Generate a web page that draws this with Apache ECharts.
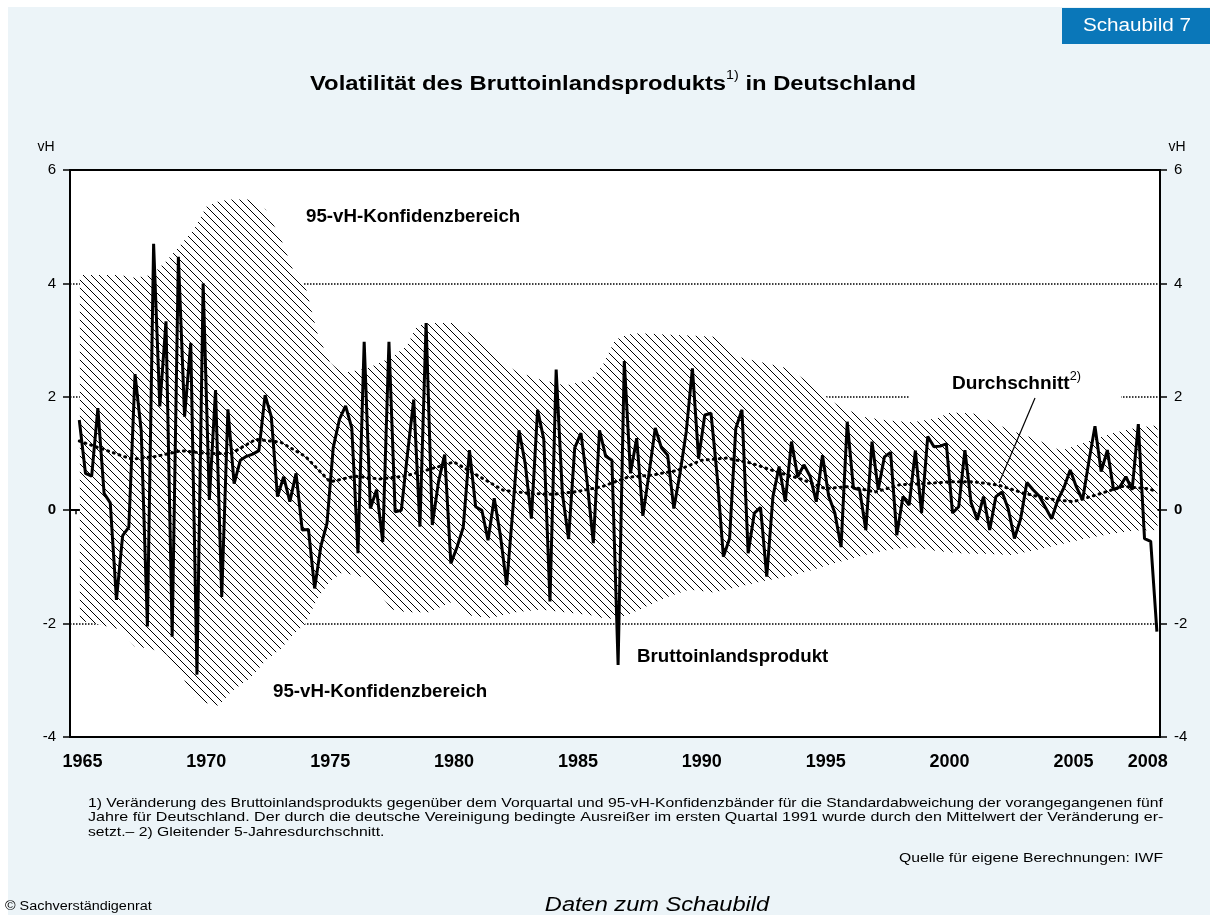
<!DOCTYPE html>
<html>
<head>
<meta charset="utf-8">
<script src="https://cdn.jsdelivr.net/npm/echarts@6/dist/echarts.min.js"></script>
<style>
html, body { margin: 0; padding: 0; background: #fff; }
#bg { position: absolute; left: 8px; top: 7px; width: 1202px; height: 908px; background: #ecf4f8; }
#chart { position: absolute; left: 0; top: 0; width: 1215px; height: 915px; }
</style>
</head>
<body>
<div id="bg"></div>
<div id="chart"></div>
<script>
// Veränderung des BIP gegenüber Vorquartal, vH, ab 1965 Q2
const startYear = 1965;
const startQuarter = 2;
const gdp = [
  1.59, 0.65, 0.6,
  1.8, 0.3, 0.13, -1.58,
  -0.45, -0.3, 2.4, 1.4,
  -2.05, 4.7, 1.83, 3.33,
  -2.23, 4.47, 1.65, 2.95,
  -2.9, 4.0, 0.18, 2.12,
  -1.53, 1.78, 0.47, 0.88,
  0.95, 0.99, 1.05, 2.03,
  1.65, 0.24, 0.59, 0.15,
  0.65, -0.35, -0.34, -1.38,
  -0.64, -0.23, 1.1, 1.6,
  1.84, 1.45, -0.76, 2.97,
  0.03, 0.36, -0.56, 2.97,
  -0.03, 0.0, 1.0, 1.95,
  -0.29, 3.3, -0.26, 0.5,
  0.98, -0.94, -0.65, -0.3,
  1.06, 0.06, 0.0, -0.53,
  0.21, -0.45, -1.32, 0.0,
  1.41, 0.82, -0.15, 1.77,
  1.25, -1.61, 2.48, 0.3,
  -0.51, 1.1, 1.36, 0.5,
  -0.58, 1.41, 0.95, 0.88,
  -2.73, 2.63, 0.65, 1.27,
  -0.1, 0.65, 1.45, 1.1,
  0.97, 0.03, 0.65, 1.38,
  2.5, 0.91, 1.68, 1.71,
  0.6, -0.82, -0.5, 1.44,
  1.77, -0.76, -0.05, 0.05,
  -1.17, 0.24, 0.77, 0.15,
  1.21, 0.59, 0.8, 0.6,
  0.15, 0.97, 0.25, -0.05,
  -0.65, 1.56, 0.39, 0.36,
  -0.35, 1.21, 0.36, 0.94,
  1.02, -0.44, 0.24, 0.09,
  1.05, -0.05, 1.3, 1.12,
  1.13, 1.17, -0.05, 0.06,
  1.06, 0.13, -0.17, 0.24,
  -0.35, 0.24, 0.32, 0.02,
  -0.5, -0.15, 0.49, 0.36,
  0.25, 0.05, -0.15, 0.18,
  0.4, 0.71, 0.41, 0.18,
  0.85, 1.48, 0.68, 1.06,
  0.36, 0.41, 0.59, 0.36,
  1.52, -0.5, -0.55, -2.14
];

// Gleitender 5-Jahresdurchschnitt
const avgYears = [1965.375, 1966.5, 1967.5, 1968.5, 1969.5, 1970.5, 1971.5, 1972.5, 1973.5, 1974.5,
  1975.5, 1976.5, 1977.5, 1978.5, 1979.5, 1980.5, 1981.5, 1982.5, 1983.5, 1984.5,
  1985.5, 1986.5, 1987.5, 1988.5, 1989.5, 1990.5, 1991.5, 1992.5, 1993.5, 1994.5,
  1995.5, 1996.5, 1997.5, 1998.5, 1999.5, 2000.5, 2001.5, 2002.5, 2003.5, 2004.5,
  2005.5, 2006.5, 2007.5, 2008.5, 2008.875];
const avgValues = [1.22, 1.05, 0.9, 0.95, 1.05, 1.0, 1.0, 1.25, 1.2, 0.95,
  0.5, 0.6, 0.55, 0.6, 0.72, 0.85, 0.6, 0.35, 0.3, 0.28,
  0.33, 0.42, 0.58, 0.62, 0.7, 0.88, 0.92, 0.83, 0.68, 0.55,
  0.38, 0.42, 0.32, 0.45, 0.47, 0.5, 0.5, 0.44, 0.3, 0.2,
  0.15, 0.28, 0.42, 0.38, 0.33];

// 95-vH-Konfidenzbereich
const bandYears = [1965.4, 1966.0, 1967.0, 1967.6, 1968.3, 1968.9, 1969.5, 1970.0, 1970.5, 1971.0,
  1971.5, 1972.3, 1972.9, 1973.5, 1974.0, 1974.5, 1975.0, 1975.5, 1976.0, 1977.0,
  1978.0, 1978.6, 1979.0, 1979.5, 1980.5, 1981.0, 1981.5, 1982.0, 1982.5, 1983.0,
  1984.0, 1985.0, 1986.0, 1986.5, 1987.0, 1987.5, 1988.0, 1989.0, 1990.0, 1991.0,
  1991.5, 1992.0, 1993.0, 1994.0, 1995.0, 1995.5, 1996.0, 1996.5, 1997.0, 1998.0,
  1999.0, 2000.0, 2000.5, 2001.0, 2001.5, 2002.0, 2003.0, 2004.0, 2005.0, 2006.0,
  2007.0, 2008.0, 2008.9];
const bandUpper = [4.15, 4.15, 4.15, 4.1, 4.15, 4.4, 4.7, 4.95, 5.35, 5.45,
  5.48, 5.48, 5.3, 4.8, 4.24, 3.95, 3.1, 2.6, 2.42, 2.5,
  2.7, 2.9, 3.25, 3.3, 3.3, 3.15, 3.05, 2.8, 2.6, 2.45,
  2.3, 2.2, 2.3, 2.55, 3.0, 3.1, 3.12, 3.1, 3.08, 3.06,
  2.85, 2.7, 2.6, 2.5, 2.2, 2.0, 1.85, 1.75, 1.65, 1.58,
  1.55, 1.62, 1.72, 1.72, 1.7, 1.6, 1.4, 1.25, 1.05, 1.2,
  1.35, 1.45, 1.5];
const bandLower = [-1.95, -2.0, -2.1, -2.4, -2.45, -2.55, -2.9, -3.3, -3.4, -3.45,
  -3.2, -2.95, -2.65, -2.45, -2.2, -2.0, -1.55, -1.25, -1.1, -1.2,
  -1.75, -1.8, -1.8, -1.8, -1.6, -1.85, -1.88, -1.9, -1.85, -1.8,
  -1.75, -1.8, -1.85, -1.9, -1.92, -1.85, -1.75, -1.55, -1.4, -1.45,
  -1.4, -1.35, -1.25, -1.17, -1.05, -0.98, -0.92, -0.86, -0.8, -0.7,
  -0.65, -0.72, -0.74, -0.76, -0.77, -0.77, -0.79, -0.7, -0.6, -0.5,
  -0.42, -0.36, -0.35];

const yearLabels = [1965, 1970, 1975, 1980, 1985, 1990, 1995, 2000, 2005, 2008];

const FONT = 'Liberation Sans, Arial, Helvetica, sans-serif';

function hatchCanvas() {
  const c = document.createElement('canvas');
  c.width = 8; c.height = 8;
  const g = c.getContext('2d');
  g.fillStyle = '#fff';
  g.fillRect(0, 0, 8, 8);
  g.strokeStyle = '#000';
  g.lineWidth = 1;
  g.beginPath();
  g.moveTo(-1, -1); g.lineTo(9, 9);
  g.moveTo(-1, 7); g.lineTo(1, 9);
  g.moveTo(7, -1); g.lineTo(9, 1);
  g.stroke();
  return c;
}
const hatch = hatchCanvas();

const gdpData = gdp.map((v, i) => {
  const q = startQuarter - 1 + i;
  return [startYear + Math.floor(q / 4) + ((q % 4) + 0.5) / 4, v];
});
const avgData = avgYears.map((x, i) => [x, avgValues[i]]);

const chart = echarts.init(document.getElementById('chart'), null, { renderer: 'canvas' });

const yAxisBase = {
  type: 'value', min: -4, max: 6, interval: 2,
  axisLine: { show: true, lineStyle: { color: '#000', width: 2 } },
  axisTick: { show: true, length: 7, lineStyle: { color: '#000', width: 1.5 } },
  axisLabel: {
    color: '#000', fontSize: 15, fontFamily: FONT, margin: 14,
    formatter: v => v === 0 ? '{z|0}' : String(v),
    rich: { z: { fontWeight: 'bold', fontSize: 15, fontFamily: FONT, color: '#000' } }
  }
};

function note(text, x, y, sx) {
  return { type: 'text', x: x, y: y, scaleX: sx, style: { text: text, fill: '#000', font: '13px ' + FONT, verticalAlign: 'middle' } };
}

const option = {
  animation: false,
  backgroundColor: 'transparent',
  grid: { left: 70, right: 55, top: 170, bottom: 178, show: true, backgroundColor: '#fff', borderColor: '#000', borderWidth: 2 },
  xAxis: {
    type: 'value', min: 1965, max: 2009, interval: 1,
    axisLine: { show: true, lineStyle: { color: '#000', width: 2 } },
    axisTick: { show: true, length: 13, lineStyle: { color: '#000', width: 2 } },
    minorTick: { show: true, splitNumber: 4, length: 4, lineStyle: { color: '#000', width: 1.5 } },
    splitLine: { show: false },
    axisLabel: {
      color: '#000', fontSize: 18, fontWeight: 'bold', fontFamily: FONT, margin: 16,
      padding: [0, 0, 0, 25],
      showMinLabel: true, showMaxLabel: true,
      formatter: v => yearLabels.indexOf(Math.round(v)) >= 0 ? String(Math.round(v)) : ''
    }
  },
  yAxis: [
    Object.assign({}, yAxisBase, {
      position: 'left',
      splitLine: { show: true, lineStyle: { color: '#000', type: 'dotted', width: 1.5 } }
    }),
    Object.assign({}, yAxisBase, { position: 'right', splitLine: { show: false } })
  ],
  series: [
    {
      name: '95-vH-Konfidenzbereich',
      type: 'custom',
      silent: true,
      z: 1,
      data: [[bandYears[0], 0]],
      renderItem: function (params, api) {
        const pts = [];
        for (let i = 0; i < bandYears.length; i++) pts.push(api.coord([bandYears[i], bandUpper[i]]));
        for (let i = bandYears.length - 1; i >= 0; i--) pts.push(api.coord([bandYears[i], bandLower[i]]));
        return {
          type: 'polygon',
          shape: { points: pts },
          style: { fill: { image: hatch, repeat: 'repeat' }, stroke: null }
        };
      }
    },
    {
      name: 'Durchschnitt',
      type: 'line',
      data: avgData,
      symbol: 'none',
      z: 3,
      lineStyle: { color: '#000', width: 3, type: [1, 5], cap: 'round' }
    },
    {
      name: 'Bruttoinlandsprodukt',
      type: 'line',
      data: gdpData,
      symbol: 'none',
      z: 4,
      lineStyle: { color: '#000', width: 3 }
    }
  ],
  graphic: [
    { type: 'rect', shape: { x: 1062, y: 8, width: 148, height: 36 }, style: { fill: '#0a77b9' } },
    { type: 'text', x: 1137, y: 26, scaleX: 1.15, style: { text: 'Schaubild 7', fill: '#fff', font: '18px ' + FONT, align: 'center', verticalAlign: 'middle' } },
    {
      type: 'text', x: 613, y: 82, scaleX: 1.19,
      style: {
        text: '{b|Volatilität des Bruttoinlandsprodukts}{s|1)}{b| in Deutschland}',
        align: 'center', verticalAlign: 'middle',
        rich: {
          b: { fontSize: 20, fontWeight: 'bold', fontFamily: FONT, fill: '#000', lineHeight: 24, verticalAlign: 'bottom' },
          s: { fontSize: 12, fontFamily: FONT, fill: '#000', lineHeight: 24, verticalAlign: 'top', padding: [0, 0, 8, 0] }
        }
      }
    },
    { type: 'text', x: 46, y: 147, style: { text: 'vH', fill: '#000', font: '14px ' + FONT, align: 'center', verticalAlign: 'middle' } },
    { type: 'text', x: 1177, y: 147, style: { text: 'vH', fill: '#000', font: '14px ' + FONT, align: 'center', verticalAlign: 'middle' } },
    { type: 'text', x: 306, y: 217, z: 10, scaleX: 1.04, style: { text: '95-vH-Konfidenzbereich', fill: '#000', font: 'bold 18px ' + FONT, verticalAlign: 'middle' } },
    { type: 'text', x: 273, y: 692, z: 10, scaleX: 1.04, style: { text: '95-vH-Konfidenzbereich', fill: '#000', font: 'bold 18px ' + FONT, verticalAlign: 'middle' } },
    { type: 'text', x: 637, y: 657, z: 10, scaleX: 1.04, style: { text: 'Bruttoinlandsprodukt', fill: '#000', font: 'bold 18px ' + FONT, verticalAlign: 'middle' } },
    { type: 'rect', z: 9, shape: { x: 909, y: 371, width: 212, height: 30 }, style: { fill: '#fff' } },
    {
      type: 'text', x: 952, y: 382, z: 10, scaleX: 1.06,
      style: {
        text: '{b|Durchschnitt}{s|2)}', verticalAlign: 'middle',
        rich: {
          b: { fontSize: 18, fontWeight: 'bold', fontFamily: FONT, fill: '#000', lineHeight: 22, verticalAlign: 'bottom' },
          s: { fontSize: 12, fontFamily: FONT, fill: '#000', lineHeight: 22, verticalAlign: 'top', padding: [0, 0, 8, 0] }
        }
      }
    },
    { type: 'line', z: 10, shape: { x1: 1035, y1: 398, x2: 999, y2: 483 }, style: { stroke: '#000', lineWidth: 1.2 } },
    note('1) Veränderung des Bruttoinlandsprodukts gegenüber dem Vorquartal und 95-vH-Konfidenzbänder für die Standardabweichung der vorangegangenen fünf', 88, 803, 1.209),
    note('Jahre für Deutschland. Der durch die deutsche Vereinigung bedingte Ausreißer im ersten Quartal 1991 wurde durch den Mittelwert der Veränderung er-', 88, 817, 1.236),
    note('setzt.– 2) Gleitender 5-Jahresdurchschnitt.', 88, 832, 1.21),
    { type: 'text', x: 1163, y: 858, scaleX: 1.21, style: { text: 'Quelle für eigene Berechnungen: IWF', fill: '#000', font: '13px ' + FONT, align: 'right', verticalAlign: 'middle' } },
    { type: 'text', x: 5, y: 907, scaleX: 1.2, style: { text: '© Sachverständigenrat', fill: '#000', font: '12px ' + FONT, verticalAlign: 'middle' } },
    { type: 'text', x: 657, y: 905, scaleX: 1.18, style: { text: 'Daten zum Schaubild', fill: '#000', font: 'italic 20px ' + FONT, align: 'center', verticalAlign: 'middle' } }
  ]
};

chart.setOption(option);
</script>
</body>
</html>
